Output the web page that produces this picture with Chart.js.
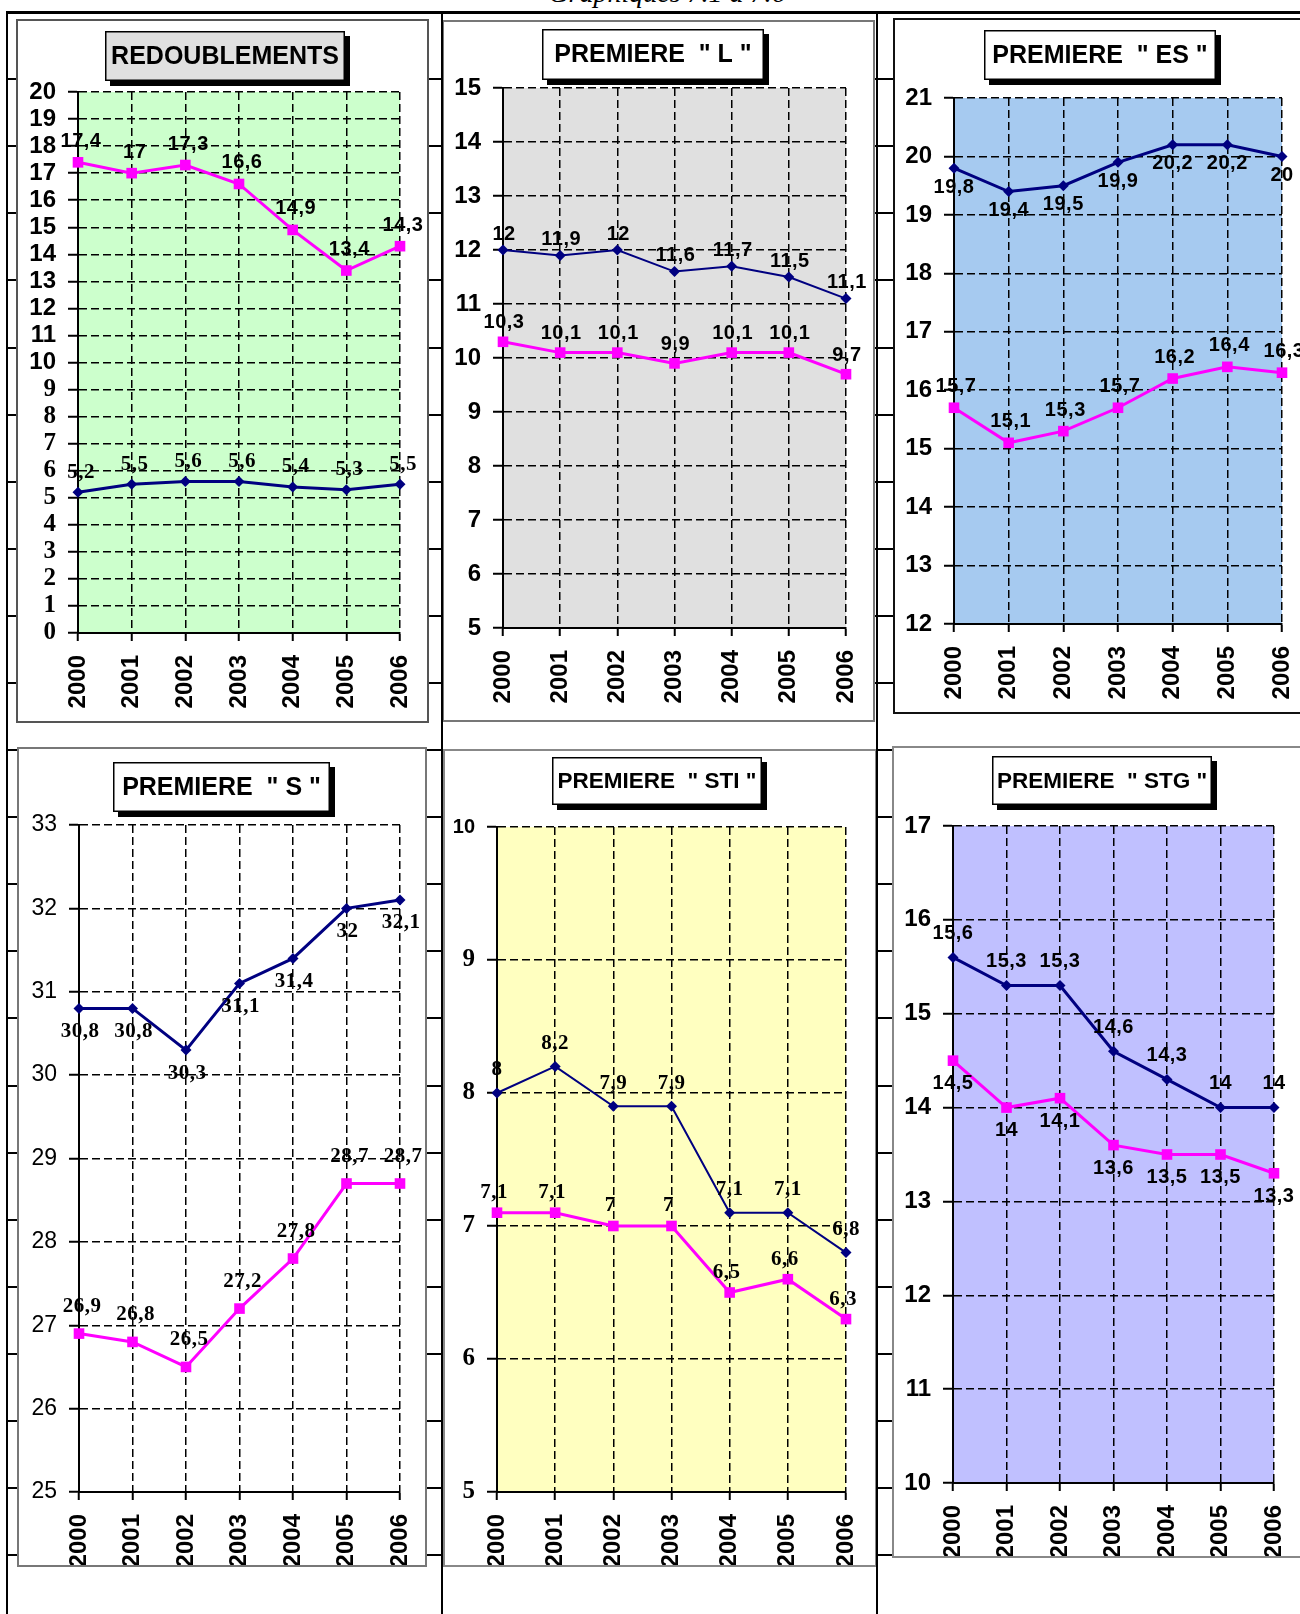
<!DOCTYPE html>
<html><head><meta charset="utf-8">
<script src="https://cdn.jsdelivr.net/npm/chart.js@4"></script>
<style>
html,body{margin:0;padding:0;background:#fff;}
body{width:1300px;height:1614px;position:relative;overflow:hidden;}
.hl{position:absolute;left:7px;width:1293px;height:2px;background:#000;z-index:0;}
.vl{position:absolute;top:11px;width:2px;height:1603px;background:#000;z-index:3;}
.box{position:absolute;box-sizing:border-box;border:2px solid #6a6a6a;background:#fff;z-index:1;}
.box canvas{display:block;}
#pagetitle{position:absolute;top:-21px;left:0;width:1334px;text-align:center;font-family:"Liberation Serif";font-style:italic;font-size:28px;line-height:28px;white-space:nowrap;z-index:4;}
</style></head>
<body>
<div id="pagetitle">Graphiques 7.1 à 7.6</div>
<script>
// ---------- DATA ----------
const years = ['2000','2001','2002','2003','2004','2005','2006'];

const redoublementsRose = [17.4, 17, 17.3, 16.6, 14.9, 13.4, 14.3];
const redoublementsBleu = [5.2, 5.5, 5.6, 5.6, 5.4, 5.3, 5.5];

const premiereLRose = [10.3, 10.1, 10.1, 9.9, 10.1, 10.1, 9.7];
const premiereLBleu = [12, 11.9, 12, 11.6, 11.7, 11.5, 11.1];

const premiereESRose = [15.7, 15.1, 15.3, 15.7, 16.2, 16.4, 16.3];
const premiereESBleu = [19.8, 19.4, 19.5, 19.9, 20.2, 20.2, 20];

const premiereSRose = [26.9, 26.8, 26.5, 27.2, 27.8, 28.7, 28.7];
const premiereSBleu = [30.8, 30.8, 30.3, 31.1, 31.4, 32, 32.1];

const premiereSTIRose = [7.1, 7.1, 7, 7, 6.5, 6.6, 6.3];
const premiereSTIBleu = [8, 8.2, 7.9, 7.9, 7.1, 7.1, 6.8];

const premiereSTGRose = [14.5, 14, 14.1, 13.6, 13.5, 13.5, 13.3];
const premiereSTGBleu = [15.6, 15.3, 15.3, 14.6, 14.3, 14, 14];

const chartTitles = ['REDOUBLEMENTS', 'PREMIERE  " L "', 'PREMIERE  " ES "',
                     'PREMIERE  " S "', 'PREMIERE  " STI "', 'PREMIERE  " STG "'];
const yMins = [0, 5, 12, 25, 5, 10];
const yMaxs = [20, 15, 21, 33, 10, 17];

// ---------- PAGE DECORATION (table lines) ----------
for (let k = 0; k < 24; k++) {
  const d = document.createElement('div');
  d.className = 'hl';
  d.style.top = Math.round(11 + 67.1 * k) + 'px';
  if (k === 0) { d.style.height = '3px'; d.style.zIndex = 3; }
  document.body.appendChild(d);
}
[6, 441, 876].forEach(x => {
  const d = document.createElement('div');
  d.className = 'vl';
  d.style.left = x + 'px';
  document.body.appendChild(d);
});

// ---------- STYLES ----------
const SANS = '"Liberation Sans", Arial, sans-serif';
const SERIF = '"Liberation Serif", "Times New Roman", serif';
const NAVY = '#000080', PINK = '#ff00ff';

const layouts = [
  {box:[16,19,429,723],  plot:[78,92,400,633],   title:[105,31,345,81],  bg:'#ccffcc', tfill:'#e0e0e0', tfont:25, border:'#555',
   blueW:3, labels:[{dx:3,dy:-20,f:SERIF,s:21},{dx:3,dy:-21,f:SANS,s:20}],
   yfont: v => v < 10 ? `700 25px ${SERIF}` : `700 24px ${SANS}`},
  {box:[442,20,875,722], plot:[503,88,846,628],  title:[542,29,764,80],  bg:'#e0e0e0', tfill:'#fff', tfont:25, border:'#777',
   blueW:2, labels:[{dx:1,dy:-16,f:SANS,s:20},{dx:1,dy:-19,f:SANS,s:20}],
   yfont: v => `700 24px ${SANS}`},
  {box:[893,18,1312,714],plot:[954,98,1282,624], title:[984,30,1216,80], bg:'#a6caf0', tfill:'#fff', tfont:25, border:'#111',
   blueW:3, labels:[{dx:0,dy:19,f:SANS,s:20},{dx:2,dy:-21,f:SANS,s:20}],
   yfont: v => `700 24px ${SANS}`},
  {box:[17,747,427,1567],plot:[79,825,400,1492], title:[113,762,330,812],bg:null, tfill:'#fff', tfont:25, border:'#777',
   blueW:3, labels:[{dx:1,dy:23,f:SERIF,s:21},{dx:3,dy:-27,f:SERIF,s:21}],
   yfont: v => `400 23px ${SANS}`},
  {box:[443,749,877,1567],plot:[497,827,846,1492],title:[552,757,762,805],bg:'#ffffc0', tfill:'#fff', tfont:22.5, border:'#888',
   blueW:2, labels:[{dx:0,dy:-23,f:SERIF,s:21},{dx:-3,dy:-20,f:SERIF,s:21}],
   yfont: v => v >= 10 ? `700 20px ${SANS}` : `700 25px ${SERIF}`},
  {box:[892,746,1312,1558],plot:[953,826,1274,1483],title:[992,756,1212,805],bg:'#c0c0ff', tfill:'#fff', tfont:22.5, border:'#888',
   blueW:3, labels:[{dx:0,dy:-24,f:SANS,s:20},{dx:0,dy:23,f:SANS,s:20}],
   yfont: v => `700 24px ${SANS}`}
];

const seriesBleu = [redoublementsBleu, premiereLBleu, premiereESBleu, premiereSBleu, premiereSTIBleu, premiereSTGBleu];
const seriesRose = [redoublementsRose, premiereLRose, premiereESRose, premiereSRose, premiereSTIRose, premiereSTGRose];

// ---------- PLUGINS ----------
const plotBg = {
  id: 'plotBg',
  beforeDraw(chart, args, o) {
    if (!o.color) return;
    const a = chart.chartArea, ctx = chart.ctx;
    ctx.save(); ctx.fillStyle = o.color;
    ctx.fillRect(a.left, a.top, a.right - a.left, a.bottom - a.top);
    ctx.restore();
  }
};
const titleBox = {
  id: 'titleBox',
  afterDraw(chart, args, o) {
    const ctx = chart.ctx;
    const x1 = o.x1, y1 = o.y1, w = o.x2 - o.x1, h = o.y2 - o.y1;
    ctx.save();
    ctx.fillStyle = '#000';
    ctx.fillRect(x1 + 5, y1 + 5, w, h);
    ctx.fillStyle = o.fill;
    ctx.fillRect(x1, y1, w, h);
    ctx.lineWidth = 1.5; ctx.strokeStyle = '#000';
    ctx.strokeRect(x1 + 0.75, y1 + 0.75, w - 1.5, h - 1.5);
    ctx.fillStyle = '#000';
    ctx.font = `700 ${o.size}px ${SANS}`;
    ctx.textAlign = 'center'; ctx.textBaseline = 'middle';
    ctx.fillText(o.text, x1 + w / 2, y1 + h / 2 + 1);
    ctx.restore();
  }
};
const valueLabels = {
  id: 'valueLabels',
  afterDatasetsDraw(chart, args, o) {
    const ctx = chart.ctx;
    chart.data.datasets.forEach((ds, i) => {
      const meta = chart.getDatasetMeta(i);
      const st = o.styles[i];
      ctx.save();
      ctx.font = `700 ${st.s}px ${st.f}`;
      try { ctx.letterSpacing = '0.5px'; } catch (e) {}
      ctx.fillStyle = '#000'; ctx.textAlign = 'center'; ctx.textBaseline = 'middle';
      meta.data.forEach((pt, j) => {
        ctx.fillText(String(ds.data[j]).replace('.', ','), pt.x + st.dx, pt.y + st.dy);
      });
      ctx.restore();
    });
  }
};

// ---------- CHARTS ----------
layouts.forEach((cfg, i) => {
  const [bl, bt, br, bb] = cfg.box;
  const div = document.createElement('div');
  div.className = 'box';
  Object.assign(div.style, {left: bl + 'px', top: bt + 'px', width: (br - bl) + 'px', height: (bb - bt) + 'px', borderColor: cfg.border});
  const il = bl + 2, it = bt + 2, iw = br - bl - 4, ih = bb - bt - 4;
  const cv = document.createElement('canvas');
  cv.width = iw; cv.height = ih; cv.style.width = iw + 'px'; cv.style.height = ih + 'px';
  div.appendChild(cv);
  document.body.appendChild(div);

  const [pl, pt, pr, pb] = cfg.plot;
  const yW = pl - il, padTop = pt - it, padRight = (il + iw) - pr, xH = (it + ih) - pb;
  const [tx1, ty1, tx2, ty2] = cfg.title;

  const gridCommon = {color: '#000', lineWidth: 1.5, tickWidth: 2, tickColor: '#000', drawTicks: true};
  const borderCommon = {display: true, color: '#000', width: 2, dash: [8, 4]};

  new Chart(cv, {
    type: 'line',
    data: {
      labels: years,
      datasets: [
        {data: seriesBleu[i], borderColor: NAVY, backgroundColor: NAVY, borderWidth: cfg.blueW,
         pointStyle: 'rectRot', pointRadius: 5.5, pointBackgroundColor: NAVY, pointBorderColor: NAVY, pointBorderWidth: 0,
         tension: 0, clip: false, fill: false},
        {data: seriesRose[i], borderColor: PINK, backgroundColor: PINK, borderWidth: 3,
         pointStyle: 'rect', pointRadius: 7.5, pointBackgroundColor: PINK, pointBorderColor: PINK, pointBorderWidth: 0,
         tension: 0, clip: false, fill: false}
      ]
    },
    options: {
      responsive: false, animation: false, events: [],
      layout: {padding: {top: padTop, right: padRight, left: 0, bottom: 0}},
      plugins: {
        legend: {display: false}, tooltip: {enabled: false}, title: {display: false},
        plotBg: {color: cfg.bg},
        titleBox: {x1: tx1 - il, y1: ty1 - it, x2: tx2 - il, y2: ty2 - it, fill: cfg.tfill, size: cfg.tfont, text: chartTitles[i]},
        valueLabels: {styles: cfg.labels}
      },
      scales: {
        x: {
          offset: false,
          grid: Object.assign({tickLength: 8, offset: false}, gridCommon),
          border: borderCommon,
          ticks: {autoSkip: false, maxRotation: 90, minRotation: 90, padding: 14, color: '#000',
                  font: {family: SANS, size: 24, weight: '700'}},
          afterFit(s) { s.height = xH; s.paddingLeft = 0; s.paddingRight = 0; }
        },
        y: {
          min: yMins[i], max: yMaxs[i],
          grid: Object.assign({tickLength: 10}, gridCommon),
          border: borderCommon,
          ticks: {stepSize: 1, autoSkip: false, padding: 12, color: '#000',
                  font: (c) => { const f = cfg.yfont(c.tick ? c.tick.value : 0); return {family: f.split('px ')[1], size: parseFloat(f.split(' ')[1]), weight: f.split(' ')[0], lineHeight: 1.2}; }},
          afterFit(s) { s.width = yW; s.paddingTop = 0; s.paddingBottom = 0; }
        }
      }
    },
    plugins: [plotBg, titleBox, valueLabels]
  });
});
</script>
</body></html>
